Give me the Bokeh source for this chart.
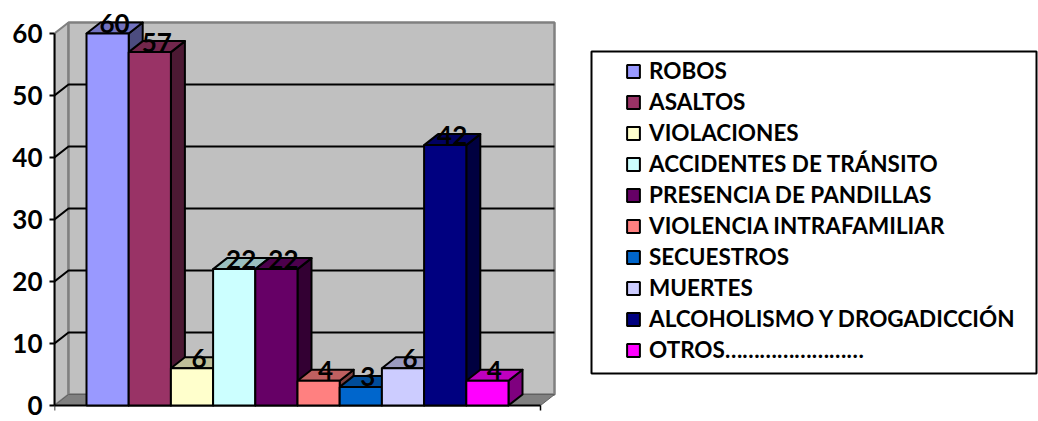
from bokeh.plotting import figure
from bokeh.models import Range1d, FixedTicker, ColumnDataSource
from bokeh.core.properties import value
from bokeh.embed import file_html
from bokeh.resources import INLINE

# ---------------- data ----------------
categories = ["ROBOS", "ASALTOS", "VIOLACIONES", "ACCIDENTES DE TRÁNSITO",
              "PRESENCIA DE PANDILLAS", "VIOLENCIA INTRAFAMILIAR", "SECUESTROS",
              "MUERTES", "ALCOHOLISMO Y DROGADICCIÓN", "OTROS……………………"]
values = [60, 57, 6, 22, 22, 4, 3, 6, 42, 4]
colors = ["#9999FF", "#993366", "#FFFFCC", "#CCFFFF", "#660066",
          "#FF8080", "#0066CC", "#CCCCFF", "#000080", "#FF00FF"]
yticks = [0, 10, 20, 30, 40, 50, 60]

# ---------------- geometry (pixels -> data) ----------------
W, H = 1038, 421
LEFT = 54                      # frame left in px
PX = 42.2                      # px per category unit
Y0, Y60 = 405, 33              # px of value 0 and 60
PY = (Y0 - Y60) / 60.0
XC0 = 107.1                    # px of first bar centre

def dx_(px):
    return (px - XC0) / PX

def dy_(py):
    return (Y0 - py) / PY

x_lo, x_hi = dx_(LEFT), dx_(W)
y_lo, y_hi = dy_(H), dy_(0)
DX = 14 / PX
DY = 11 / PY
YMAX = yticks[-1]
n = len(values)
x_fl = dx_(LEFT)
x_fr = (n - 1) - x_fl          # symmetric right edge

p = figure(width=W, height=H, output_backend="svg", toolbar_location=None,
           x_range=Range1d(x_lo, x_hi), y_range=Range1d(y_lo, y_hi),
           x_axis_location=None, min_border_left=LEFT, min_border_right=0,
           min_border_top=0, min_border_bottom=0)
p.outline_line_color = None
p.xgrid.visible = False
p.ygrid.visible = False
p.background_fill_color = "white"

# ---- walls ----
p.patch([x_fl, x_fl, x_fl + DX, x_fl + DX], [0, YMAX, YMAX + DY, DY],
        fill_color="#C0C0C0", line_color="#808080", line_width=2)
p.quad(left=[x_fl + DX], right=[x_fr + DX], bottom=[DY], top=[YMAX + DY],
       fill_color="#C0C0C0", line_color="#808080", line_width=2.5)
p.patch([x_fl, x_fr, x_fr + DX, x_fl + DX], [0, 0, DY, DY],
        fill_color="#808080", line_color="#606060", line_width=1)
for t in yticks[1:-1]:
    p.line([x_fl, x_fl + DX, x_fr + DX], [t, t + DY, t + DY],
           line_color="black", line_width=2)
# front floor edge
p.line([x_fl, x_fr], [0, 0], line_color="black", line_width=2)
p.line([x_fr, x_fr], [0, -5 / PY], line_color="black", line_width=1.5)
p.line([x_fl, x_fl], [0, -5 / PY], line_color="black", line_width=1.5)


def shade(c, f):
    c = c.lstrip("#")
    r, g, b = (int(c[i:i + 2], 16) for i in (0, 2, 4))
    return "#%02x%02x%02x" % (int(r * f), int(g * f), int(b * f))

# ---- side and top faces ----
xs, ys, fc = [], [], []
for i, v in enumerate(values):
    xs.append([i + 0.5, i + 0.5 + DX, i + 0.5 + DX, i + 0.5])
    ys.append([0, DY, v + DY, v])
    fc.append(shade(colors[i], 0.5))
    xs.append([i - 0.5, i + 0.5, i + 0.5 + DX, i - 0.5 + DX])
    ys.append([v, v, v + DY, v + DY])
    fc.append(shade(colors[i], 0.75))
p.patches(xs, ys, fill_color=fc, line_color="black", line_width=2,
          line_join="round")

# ---- front faces ----
LBL_UP = 10 / PY
src = ColumnDataSource(dict(x=list(range(n)), v=values, c=colors, cat=categories,
                            lx=[i + DX / 2 for i in range(n)],
                            ly=[v + LBL_UP for v in values],
                            lbl=[str(v) for v in values]))
p.vbar(x="x", top="v", width=1, bottom=0, fill_color="c", line_color="black",
       line_width=2, legend_field="cat", source=src)

# ---- data labels ----
p.text(x="lx", y="ly", text="lbl", source=src, text_align="center",
       text_baseline="middle", text_font=value("Lato"),
       text_font_style="bold", text_font_size="26px", text_color="black")

# ---- y axis ----
ax = p.yaxis[0]
ax.ticker = FixedTicker(ticks=yticks)
ax.bounds = (0, YMAX)
ax.axis_line_width = 2
ax.axis_line_color = "black"
ax.major_tick_out = 5
ax.major_tick_in = 0
ax.major_tick_line_width = 2
ax.minor_tick_line_color = None
ax.major_label_standoff = 7
ax.major_label_text_font = "Lato"
ax.major_label_text_font_style = "bold"
ax.major_label_text_font_size = "26px"
ax.major_label_text_color = "black"

# ---- legend ----
lg = p.legend[0]
lg.location = (571, 56)
lg.border_line_color = None
lg.background_fill_alpha = 0
lg.padding = 5
lg.margin = 0
lg.spacing = 0
lg.glyph_width = 16
lg.glyph_height = 16
lg.label_height = 31
lg.label_standoff = 8
lg.label_text_font = "Lato"
lg.label_text_font_style = "bold"
lg.label_text_font_size = "22.5px"
lg.label_text_color = "black"

# legend box
bx_l, bx_r = dx_(591), dx_(1036)
bx_t, bx_b = dy_(51), dy_(373)
p.quad(left=[bx_l], right=[bx_r], top=[bx_t], bottom=[bx_b],
       fill_color=None, line_color="black", line_width=2)

open("out.html", "w").write(file_html(p, INLINE))
